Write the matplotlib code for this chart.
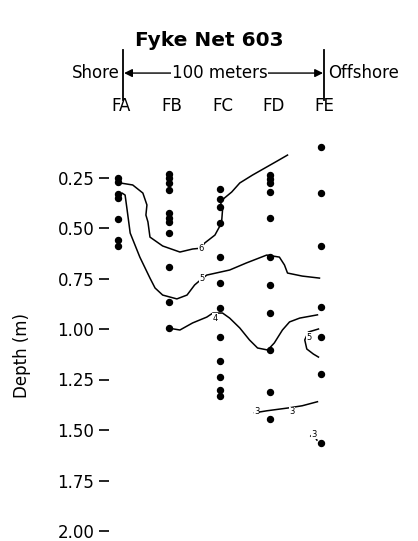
import numpy as np
import matplotlib
matplotlib.use("Agg")
import matplotlib.pyplot as plt

# stations across the transect (FA = shore, FE = offshore)
stations = ["FA", "FB", "FC", "FD", "FE"]

# sample depths (m) at each station
depth_FA = [0.25, 0.27, 0.33, 0.35, 0.455, 0.56, 0.59]
depth_FB = [0.233, 0.252, 0.277, 0.312, 0.426, 0.45, 0.47, 0.525, 0.693, 0.866, 0.995]
depth_FC = [0.307, 0.356, 0.396, 0.475, 0.644, 0.772, 0.896, 1.04, 1.158, 1.238, 1.302, 1.332]
depth_FD = [0.238, 0.257, 0.277, 0.322, 0.45, 0.644, 0.782, 0.921, 1.104, 1.312, 1.445]
depth_FE = [0.099, 0.327, 0.589, 0.891, 1.04, 1.223, 1.564]
samples = [depth_FA, depth_FB, depth_FC, depth_FD, depth_FE]

# contour lines (station position, depth)
c6_x = [0.04, 0.29, 0.49, 0.57, 0.55, 0.59, 0.63, 0.88, 1.22, 1.47, 1.63, 1.71, 1.91, 2.04,
        2.06, 2.02, 2.10, 2.24, 2.40, 2.65, 2.93, 3.14, 3.34]
c6_y = [0.277, 0.287, 0.327, 0.386, 0.436, 0.47, 0.545, 0.589, 0.619, 0.604, 0.60, 0.574,
        0.535, 0.475, 0.41, 0.371, 0.351, 0.322, 0.277, 0.238, 0.198, 0.168, 0.139]
c5_x = [0.0, 0.08, 0.14, 0.18, 0.24, 0.43, 0.63, 0.73, 0.88, 1.16, 1.36, 1.51, 1.65, 1.75,
        2.20, 2.53, 2.93, 3.18, 3.28, 3.34, 3.63, 3.97]
c5_y = [0.347, 0.327, 0.337, 0.411, 0.525, 0.644, 0.748, 0.797, 0.832, 0.851, 0.832, 0.782,
        0.752, 0.733, 0.708, 0.673, 0.634, 0.644, 0.683, 0.723, 0.738, 0.748]
c4_x = [0.98, 1.22, 1.47, 1.75, 1.87, 2.06, 2.20, 2.40, 2.59, 2.75, 2.95, 3.08, 3.24, 3.38,
        3.58, 3.93]
c4_y = [0.995, 1.005, 0.97, 0.941, 0.921, 0.921, 0.946, 0.995, 1.054, 1.094, 1.104, 1.069,
        1.005, 0.965, 0.946, 0.93]
c4b_x = [3.95, 3.75, 3.68, 3.72, 3.85, 3.95]
c4b_y = [1.00, 1.015, 1.054, 1.099, 1.124, 1.139]
c3_x = [2.69, 2.93, 3.38, 3.63, 3.93]
c3_y = [1.415, 1.405, 1.39, 1.38, 1.36]
c3b_x = [3.80, 3.85, 3.88, 3.92]
c3b_y = [1.53, 1.515, 1.535, 1.55]

# contour labels
lab_text = ["6", "5", "4", "5", "3", "3", "3"]
lab_x = [1.63, 1.65, 1.91, 3.76, 2.73, 3.42, 3.86]
lab_y = [0.60, 0.752, 0.946, 1.04, 1.41, 1.41, 1.52]

depth_ticks = [0.25, 0.50, 0.75, 1.00, 1.25, 1.50, 1.75, 2.00]

fig = plt.figure(figsize=(4.18, 5.41), dpi=100)
ax = fig.add_axes([109 / 418, 0, 1 - 109 / 418, 1])

for i, d in enumerate(samples):
    ax.plot([i] * len(d), d, "o", color="black", ms=4.3, mec="black", zorder=3)

for xs, ys in [(c6_x, c6_y), (c5_x, c5_y), (c4_x, c4_y), (c4b_x, c4b_y), (c3_x, c3_y), (c3b_x, c3b_y)]:
    ax.plot(xs, ys, color="black", lw=1.1)

for t, x, y in zip(lab_text, lab_x, lab_y):
    ax.text(x, y, t, fontsize=6, ha="center", va="center",
            bbox=dict(facecolor="white", edgecolor="none", pad=0.2))

ax.set_xlim((109 - 118) / 50.75, (418 - 118) / 50.75)
ax.set_ylim(0.25 + (541 - 177.5) / 202, 0.25 + (0 - 177.5) / 202)
ax.set_yticks(depth_ticks)
ax.set_yticklabels(["%.2f" % v for v in depth_ticks], fontsize=12)
ax.set_xticks([])
ax.tick_params(axis="y", length=7, width=1.2, pad=3.5)
for s in ax.spines.values():
    s.set_visible(False)
ax.patch.set_alpha(0)

# header
ax.text(1.8, -0.43, "Fyke Net 603", fontsize=14.5, fontweight="bold", ha="center", va="center")
ax.plot([0.1, 0.1], [-0.38, -0.135], color="black", lw=1.3, clip_on=False)
ax.plot([4.06, 4.06], [-0.38, -0.135], color="black", lw=1.3, clip_on=False)
ax.annotate("", xy=(0.12, -0.267), xytext=(4.04, -0.267),
            arrowprops=dict(arrowstyle="<|-|>", color="black", lw=1.0, mutation_scale=12,
                            shrinkA=0, shrinkB=0))
ax.text(2.0, -0.267, "100 meters", fontsize=12, ha="center", va="center",
        bbox=dict(facecolor="white", edgecolor="none", pad=0.5))
ax.text(0.04, -0.267, "Shore", fontsize=12, ha="right", va="center")
ax.text(4.15, -0.267, "Offshore", fontsize=12, ha="left", va="center")
for i, st in enumerate(stations):
    ax.text(i + 0.06, -0.105, st, fontsize=12, ha="center", va="center")

fig.text(22 / 418, 1 - 355 / 541, "Depth (m)", rotation=90, fontsize=12,
         ha="center", va="center")

fig.savefig("out.png", dpi=100)
